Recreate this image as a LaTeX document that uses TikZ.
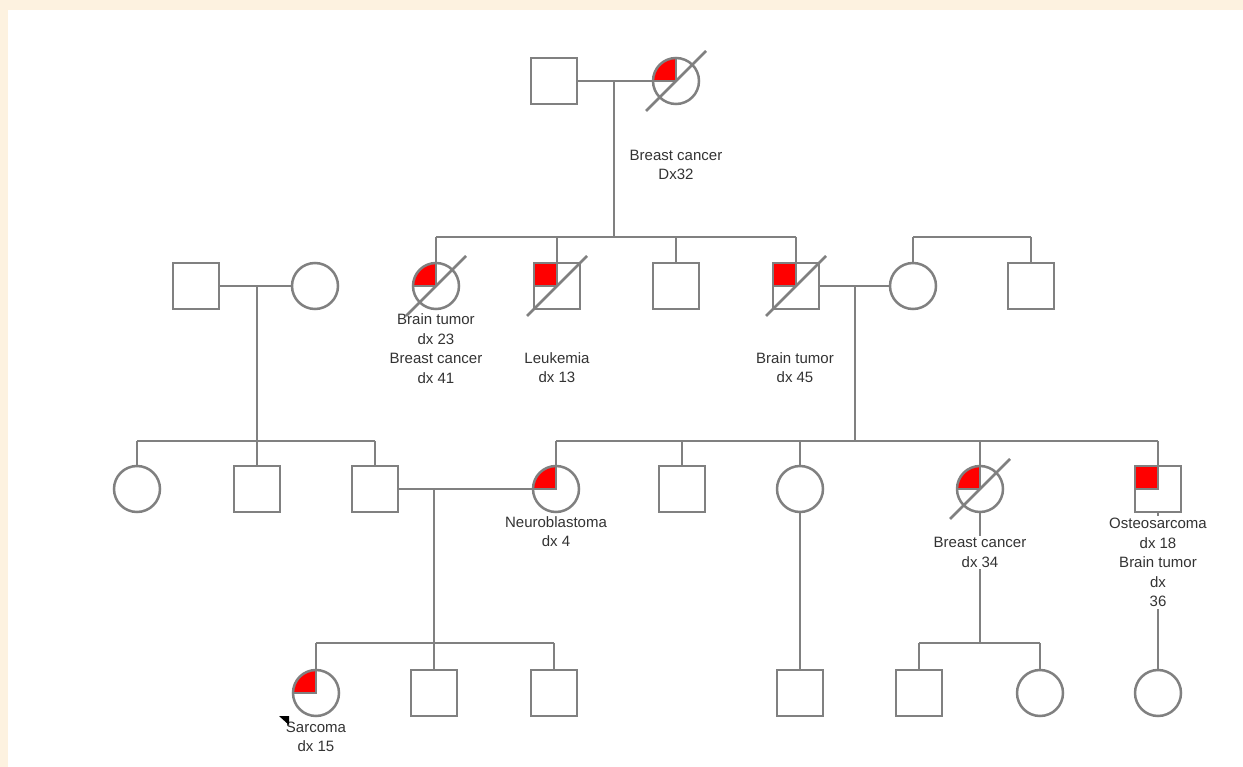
\documentclass[tikz,border=0pt]{standalone}
\usepackage{fontspec}
\setmainfont{Liberation Sans}
\usetikzlibrary{backgrounds}

\definecolor{linegrey}{HTML}{808080}
\definecolor{paper}{HTML}{FDF2E0}
\definecolor{textgrey}{HTML}{333333}

\tikzset{
  rel/.style={draw=linegrey, line width=2.5pt},
  male/.style={rectangle, draw=linegrey, line width=2.5pt, fill=white,
    minimum size=46pt, inner sep=0pt},
  female/.style={circle, draw=linegrey, line width=2.5pt, fill=white,
    minimum size=46pt, inner sep=0pt},
  affected/.style={path picture={
    \filldraw[fill=red, draw=linegrey, line width=2pt]
      (path picture bounding box.center) rectangle (path picture bounding box.north west);}},
  dxlabel/.style={align=center, text=textgrey, inner sep=2pt,
    font=\fontsize{15}{19.5}\selectfont},
}

% slash through a deceased individual
\newcommand{\deceased}[1]{%
  \draw[rel] ([shift={(-30,30)}]#1.center) -- ([shift={(30,-30)}]#1.center);}

\begin{document}
\begin{tikzpicture}[x=1pt, y=-1pt]
    \useasboundingbox (0,0) rectangle (1243,767);
    %%paper
    \begin{scope}[on background layer]
        \fill[paper] (0,0) rectangle (1243,767);
        \fill[white] (8,10) rectangle (1243,767);
    \end{scope}

    %%generation I
    \node[male] (i1) at (554,81) {};
    \node[female, affected] (i2) at (676,81) {};
    \deceased{i2}
    \node[dxlabel] (lbli2) at (676,165) {Breast cancer\\Dx32};

    %%generation II
    \node[male] (p1) at (196,286) {};
    \node[female] (p2) at (315,286) {};
    \node[female, affected] (ii1) at (436,286) {};
    \node[male, affected] (ii2) at (557,286) {};
    \node[male] (ii3) at (676,286) {};
    \node[male, affected] (ii4) at (796,286) {};
    \node[female] (ii5) at (913,286) {};
    \node[male] (ii6) at (1031,286) {};
    \deceased{ii1}
    \deceased{ii2}
    \deceased{ii4}
    \node[dxlabel] (lblii1) at (436,348.5) {Brain tumor\\dx 23\\Breast cancer\\dx 41};
    \node[dxlabel] (lblii2) at (557,367.5) {Leukemia\\dx 13};
    \node[dxlabel] (lblii4) at (795,367.5) {Brain tumor\\dx 45};

    %%generation III
    \node[female] (iii1) at (137,489) {};
    \node[male] (iii2) at (257,489) {};
    \node[male] (iii3) at (375,489) {};
    \node[female, affected] (iii4) at (556,489) {};
    \node[male] (iii5) at (682,489) {};
    \node[female] (iii6) at (800,489) {};
    \node[female, affected] (iii7) at (980,489) {};
    \node[male, affected] (iii8) at (1158,489) {};
    \deceased{iii7}
    \node[dxlabel] (lbliii4) at (556,531.5) {Neuroblastoma\\dx 4};

    %%generation IV
    \node[female, affected] (iv1) at (316,693) {};
    \node[male] (iv2) at (434,693) {};
    \node[male] (iv3) at (554,693) {};
    \node[male] (iv4) at (800,693) {};
    \node[male] (iv5) at (919,693) {};
    \node[female] (iv6) at (1040,693) {};
    \node[female] (iv7) at (1158,693) {};
    \node[dxlabel] (lbliv1) at (316,737) {Sarcoma\\dx 15};
    \fill[black] (279,716) -- (289,716) -- (289,725) -- cycle;

    %%family lines
    \coordinate (m1) at (614,81);
    \coordinate (s1) at (614,237);
    \coordinate (m2) at (257,286);
    \coordinate (s2) at (257,441);
    \coordinate (m3) at (855,286);
    \coordinate (s3) at (855,441);
    \coordinate (s4) at (972,237);
    \coordinate (m5) at (434,489);
    \coordinate (s5) at (434,643);
    \coordinate (s6) at (980,643);
    \begin{scope}[on background layer]
        % I1 x I2
        \draw[rel] (i1) -- (i2);
        \draw[rel] (m1) -- (s1);
        \draw[rel] (ii1 |- s1) -- (ii4 |- s1);
        \foreach \kid in {ii1,ii2,ii3,ii4}
            \draw[rel] (\kid |- s1) -- (\kid);
        % P1 x P2
        \draw[rel] (p1) -- (p2);
        \draw[rel] (m2) -- (s2);
        \draw[rel] (iii1 |- s2) -- (iii3 |- s2);
        \foreach \kid in {iii1,iii2,iii3}
            \draw[rel] (\kid |- s2) -- (\kid);
        % siblings II5, II6
        \draw[rel] (ii5 |- s4) -- (ii6 |- s4);
        \foreach \kid in {ii5,ii6}
            \draw[rel] (\kid |- s4) -- (\kid);
        % II4 x II5
        \draw[rel] (ii4) -- (ii5);
        \draw[rel] (m3) -- (s3);
        \draw[rel] (iii4 |- s3) -- (iii8 |- s3);
        \foreach \kid in {iii4,iii5,iii6,iii7,iii8}
            \draw[rel] (\kid |- s3) -- (\kid);
        % III3 x III4
        \draw[rel] (iii3) -- (iii4);
        \draw[rel] (m5) -- (s5);
        \draw[rel] (iv1 |- s5) -- (iv3 |- s5);
        \foreach \kid in {iv1,iv2,iv3}
            \draw[rel] (\kid |- s5) -- (\kid);
        % III6, III7, III8 children
        \draw[rel] (iii6) -- (iv4);
        \draw[rel] (iii7) -- (s6);
        \draw[rel] (iv5 |- s6) -- (iv6 |- s6);
        \foreach \kid in {iv5,iv6}
            \draw[rel] (\kid |- s6) -- (\kid);
        \draw[rel] (iii8) -- (iv7);
    \end{scope}
    \node[dxlabel, fill=white] (lbliii7) at (980,552.5) {Breast cancer\\dx 34};
    \node[dxlabel, fill=white] (lbliii8) at (1158,562.5) {Osteosarcoma\\dx 18\\Brain tumor\\dx\\36};
\end{tikzpicture}
\end{document}
